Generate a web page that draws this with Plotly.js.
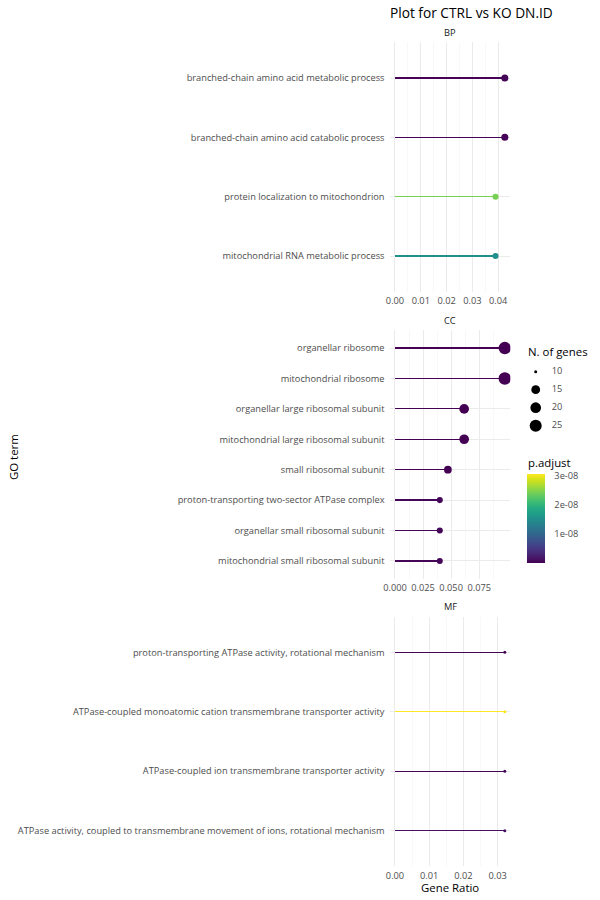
<!DOCTYPE html>
<html>
<head>
<meta charset="utf-8">
<script src="https://cdn.plot.ly/plotly-3.0.1.min.js"></script>
<style>html,body{margin:0;padding:0;background:#fff;}#chart{width:600px;height:900px;}</style>
</head>
<body>
<div id="chart"></div>
<script>
// ---------------- data ----------------
const bpTerms = ["branched-chain amino acid metabolic process","branched-chain amino acid catabolic process","protein localization to mitochondrion","mitochondrial RNA metabolic process"];
const bpRatio = [0.0426, 0.0426, 0.0390, 0.0390];
const bpCount = [12, 12, 11, 11];
const bpPadj  = [2.0e-10, 2.0e-10, 2.45e-08, 1.53e-08];

const ccTerms = ["organellar ribosome","mitochondrial ribosome","organellar large ribosomal subunit","mitochondrial large ribosomal subunit","small ribosomal subunit","proton-transporting two-sector ATPase complex","organellar small ribosomal subunit","mitochondrial small ribosomal subunit"];
const ccRatio = [0.0978, 0.0978, 0.0616, 0.0616, 0.0471, 0.0399, 0.0399, 0.0399];
const ccCount = [27, 27, 17, 17, 13, 11, 11, 11];
const ccPadj  = [1e-15, 1e-15, 5e-13, 5e-13, 3e-11, 4e-10, 4e-10, 4e-10];

const mfTerms = ["proton-transporting ATPase activity, rotational mechanism","ATPase-coupled monoatomic cation transmembrane transporter activity","ATPase-coupled ion transmembrane transporter activity","ATPase activity, coupled to transmembrane movement of ions, rotational mechanism"];
const mfRatio = [0.0321, 0.0321, 0.0321, 0.0321];
const mfCount = [10, 10, 10, 10];
const mfPadj  = [3e-10, 3.08e-08, 3e-10, 1.2e-09];

const sizeLegendValues = [10, 15, 20, 25];
const cbTickVals = [1e-08, 2e-08, 3e-08];
const cbTickText = ["1e-08", "2e-08", "3e-08"];

// ---------------- styling helpers ----------------
const W = 600, H = 900;
const FONT = "Open Sans, Noto Sans, sans-serif";
const TICK = 9.25;
const TITLE2 = 11.4;
const allPadj = bpPadj.concat(ccPadj, mfPadj);
const cmin = Math.min(...allPadj), cmax = Math.max(...allPadj);
const nmin = 10, nmax = 27;
function diam(n) { return 3 + 9.5 * Math.pow(Math.max(0, (n - nmin)) / (nmax - nmin), 0.4); }
const px = v => v / W;
const py = v => 1 - v / H;

const xDom = [px(389.5), px(510.3)];
const panels = [
  {terms: bpTerms, ratio: bpRatio, count: bpCount, padj: bpPadj, dom: [py(291.6), py(42.4)], step: 0.01, fmt: ".2f"},
  {terms: ccTerms, ratio: ccRatio, count: ccCount, padj: ccPadj, dom: [py(579.2), py(329.8)], step: 0.025, fmt: ".3f"},
  {terms: mfTerms, ratio: mfRatio, count: mfCount, padj: mfPadj, dom: [py(866.4), py(616.6)], step: 0.01, fmt: ".2f"}
];

const traces = [];
const layout = {
  width: W, height: H,
  margin: {l: 0, r: 0, t: 0, b: 0},
  paper_bgcolor: "#ffffff", plot_bgcolor: "rgba(0,0,0,0)",
  showlegend: false,
  font: {family: FONT, color: "#4d4d4d", size: TICK},
  title: {text: "Plot for CTRL vs KO DN.ID", x: px(390), xanchor: "left", y: py(13), yanchor: "middle", xref: "paper", yref: "paper",
          font: {family: FONT, size: 13.7, color: "#000000"}},
  annotations: [],
  bargap: 0
};

panels.forEach((p, i) => {
  const k = i === 0 ? "" : String(i + 1);
  const xa = "x" + k, ya = "y" + k;
  const n = p.terms.length;
  const pxPerCat = (p.dom[1] - p.dom[0]) * H / (n + 0.2);
  const maxR = Math.max(...p.ratio);
  const range = [-0.05 * maxR, 1.05 * maxR];
  // ggplot-like breaks: majors within data limits, minors halfway
  const majors = [];
  for (let v = 0; v <= maxR + 1e-12; v += p.step) majors.push(+v.toFixed(6));
  const minors = [];
  for (let j = 0; j < majors.length; j++) {
    const m = +(majors[j] + p.step / 2).toFixed(6);
    if (m <= range[1]) minors.push(m);
  }
  // segments as thin bars coloured by p.adjust
  traces.push({
    type: "bar", orientation: "h", x: p.ratio, y: p.terms, base: 0,
    width: 1.25 / pxPerCat,
    xaxis: xa, yaxis: ya,
    marker: {color: p.padj, colorscale: "Viridis", cmin: cmin, cmax: cmax, line: {width: 0}},
    hoverinfo: "skip"
  });
  // points
  const pts = {
    type: "scatter", mode: "markers", x: p.ratio, y: p.terms,
    xaxis: xa, yaxis: ya, cliponaxis: true,
    marker: {color: p.padj, colorscale: "Viridis", cmin: cmin, cmax: cmax,
             size: p.count.map(diam), line: {width: 0}, opacity: 1}
  };
  if (i === 1) {
    pts.marker.showscale = true;
    pts.marker.colorbar = {
      x: px(527.3), xanchor: "left", xpad: 0,
      y: py(562.7), yanchor: "bottom", ypad: 0,
      thickness: 17.7, thicknessmode: "pixels",
      len: 89.4, lenmode: "pixels",
      outlinewidth: 0,
      tickvals: cbTickVals, ticktext: cbTickText,
      ticks: "outside", ticklen: 8, tickcolor: "rgba(0,0,0,0)", tickwidth: 1,
      tickfont: {family: FONT, size: TICK, color: "#4d4d4d"}
    };
  }
  traces.push(pts);

  layout["xaxis" + k] = {
    domain: xDom, anchor: ya, range: range,
    tickmode: "array", tickvals: majors, tickformat: p.fmt,
    showgrid: true, gridcolor: "#ebebeb", gridwidth: 1,
    minor: {tickmode: "array", tickvals: minors, showgrid: true, gridcolor: "#f3f3f3", gridwidth: 0.6, ticks: ""},
    zeroline: false, showline: false, ticks: "", ticklabelstandoff: 2,
    tickfont: {family: FONT, size: TICK, color: "#4d4d4d"},
    fixedrange: true
  };
  layout["yaxis" + k] = {
    domain: p.dom, anchor: xa, type: "category",
    categoryorder: "array", categoryarray: p.terms,
    range: [n - 1 + 0.6, -0.6],
    showgrid: true, gridcolor: "#ebebeb", gridwidth: 1,
    zeroline: false, showline: false, ticks: "", ticklabelstandoff: 4,
    tickfont: {family: FONT, size: TICK, color: "#4d4d4d"},
    fixedrange: true
  };
});

// size legend as its own small subplot
traces.push({
  type: "scatter", mode: "markers", x: sizeLegendValues.map(() => 0), y: sizeLegendValues.map(String),
  xaxis: "x4", yaxis: "y4", cliponaxis: false,
  marker: {color: "#000000", size: sizeLegendValues.map(diam), line: {width: 0}, opacity: 1},
  hoverinfo: "skip"
});
traces.push({
  type: "scatter", mode: "text", x: sizeLegendValues.map(() => 16), y: sizeLegendValues.map(String),
  text: sizeLegendValues.map(String), textposition: "middle right",
  textfont: {family: FONT, size: TICK, color: "#4d4d4d"},
  xaxis: "x4", yaxis: "y4", cliponaxis: false, hoverinfo: "skip"
});
layout.xaxis4 = {domain: [px(527), 1], anchor: "y4", range: [-8.7, 64.3], visible: false, fixedrange: true};
layout.yaxis4 = {domain: [py(434.7), py(362.7)], anchor: "x4", type: "category",
                 categoryorder: "array", categoryarray: sizeLegendValues.map(String),
                 range: [3.5, -0.5], visible: false, fixedrange: true};

const ann = (text, x, y, opts) => Object.assign({text: text, x: x, y: y, xref: "paper", yref: "paper", showarrow: false,
  xanchor: "center", yanchor: "middle", font: {family: FONT, size: TICK, color: "#1a1a1a"}}, opts || {});
layout.annotations.push(ann("BP", px(450), py(33)));
layout.annotations.push(ann("CC", px(450), py(320.7)));
layout.annotations.push(ann("MF", px(450), py(606.7)));
layout.annotations.push(ann("Gene Ratio", px(450), py(887), {font: {family: FONT, size: TITLE2, color: "#000000"}}));
layout.annotations.push(ann("GO term", px(13), py(457), {textangle: -90, font: {family: FONT, size: TITLE2, color: "#000000"}}));
layout.annotations.push(ann("N. of genes", px(526), py(351.7), {xanchor: "left", font: {family: FONT, size: TITLE2, color: "#000000"}}));
layout.annotations.push(ann("p.adjust", px(526), py(462), {xanchor: "left", font: {family: FONT, size: TITLE2, color: "#000000"}}));

Plotly.newPlot("chart", traces, layout, {staticPlot: true, displayModeBar: false});
</script>
</body>
</html>
